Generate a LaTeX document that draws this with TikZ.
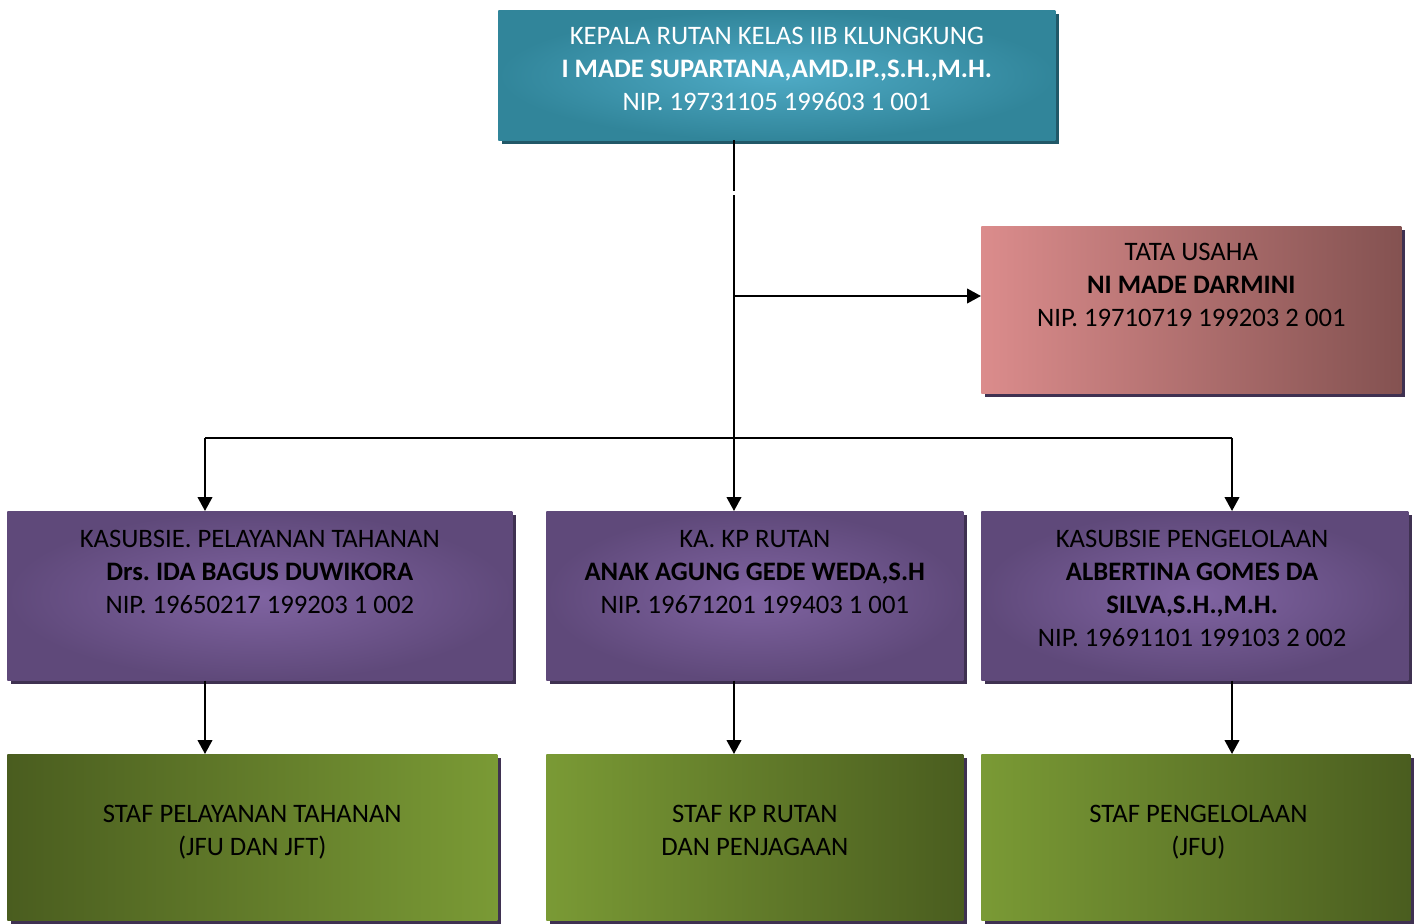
\documentclass[tikz,border=0pt]{standalone}
\usepackage{fontspec}
\setmainfont{Carlito}
\frenchspacing
\usetikzlibrary{shadows,arrows.meta}
\definecolor{tealE}{HTML}{31859A}
\definecolor{tealC}{HTML}{4FABC6}
\definecolor{tealS}{HTML}{215868}
\definecolor{pinkL}{HTML}{DB8C8C}
\definecolor{pinkR}{HTML}{845251}
\definecolor{purE}{HTML}{5F497A}
\definecolor{purC}{HTML}{8064A2}
\definecolor{shadowP}{HTML}{3F3151}
\definecolor{grD}{HTML}{4A5D1F}
\definecolor{grL}{HTML}{7A9A35}
\begin{document}
\begin{tikzpicture}[x=0.75pt,y=-0.75pt,
  orgbox/.style={rectangle, draw=none, anchor=north west, inner sep=0pt,
    general shadow={fill=shadowP, shadow xshift=3pt, shadow yshift=-3pt}},
  topbox/.style={orgbox, inner color=tealC, outer color=tealE,
    general shadow={fill=tealS, shadow xshift=3pt, shadow yshift=-3pt}},
  pinkbox/.style={orgbox, left color=pinkL, right color=pinkR},
  purbox/.style={orgbox, inner color=purC, outer color=purE},
  grbox/.style={orgbox},
  txt/.style={anchor=north, inner sep=0pt, align=center,
    font=\fontsize{20}{24.75}\selectfont},
  conn/.style={line width=1.5pt},
  arr/.style={conn, -{Triangle[length=10.5pt,width=11pt]}}]
\useasboundingbox (0,0) rectangle (1418,924);

% boxes
\node[topbox, minimum width=417.75pt, minimum height=97.5pt] (top) at (498,10) {};
\node[pinkbox, minimum width=315pt, minimum height=125.25pt] (tu) at (981,226) {};
\node[purbox, minimum width=378.75pt, minimum height=126.75pt] (p1) at (7,511) {};
\node[purbox, minimum width=312.75pt, minimum height=126.75pt] (p2) at (546,511) {};
\node[purbox, minimum width=320.25pt, minimum height=126.75pt] (p3) at (981,511) {};
\node[grbox, left color=grD, right color=grL, minimum width=367.5pt, minimum height=124.5pt] (g1) at (7,754) {};
\node[grbox, left color=grL, right color=grD, minimum width=312.75pt, minimum height=124.5pt] (g2) at (546,754) {};
\node[grbox, left color=grL, right color=grD, minimum width=321.75pt, minimum height=124.5pt] (g3) at (981,754) {};

% texts
\node[txt, text=white] (topt) at ([yshift=-12.5pt]top.north)
  {KEPALA RUTAN KELAS IIB KLUNGKUNG\\ \textbf{I MADE SUPARTANA,AMD.IP.,S.H.,M.H.}\\ NIP. 19731105 199603 1 001};
\node[txt] (tut) at ([yshift=-12.5pt]tu.north)
  {TATA USAHA\\ \textbf{NI MADE DARMINI}\\ NIP. 19710719 199203 2 001};
\node[txt] (p1t) at ([yshift=-14pt]p1.north)
  {KASUBSIE. PELAYANAN TAHANAN\\ \textbf{Drs. IDA BAGUS DUWIKORA}\\ NIP. 19650217 199203 1 002};
\node[txt] (p2t) at ([yshift=-14pt]p2.north)
  {KA. KP RUTAN\\ \textbf{ANAK AGUNG GEDE WEDA,S.H}\\ NIP. 19671201 199403 1 001};
\node[txt] (p3t) at ([xshift=-2pt,yshift=-14pt]p3.north)
  {KASUBSIE PENGELOLAAN\\ \textbf{ALBERTINA GOMES DA}\\ \textbf{SILVA,S.H.,M.H.}\\ NIP. 19691101 199103 2 002};
\node[txt] (g1t) at ([yshift=-38pt]g1.north)
  {STAF PELAYANAN TAHANAN\\ (JFU DAN JFT)};
\node[txt] (g2t) at ([yshift=-38pt]g2.north)
  {STAF KP RUTAN\\ DAN PENJAGAAN};
\node[txt] (g3t) at ([xshift=2pt,yshift=-38pt]g3.north)
  {STAF PENGELOLAAN\\ (JFU)};

% connector points
\coordinate (t0) at (734,140);
\coordinate (t1) at (734,191);
\coordinate (t2) at (734,195);
\coordinate (tj) at (734,296);
\coordinate (hl) at (205,438);
\coordinate (hr) at (1232,438);

% connectors
\draw[conn] (t0) -- (t1);
\draw[arr] (t2) -- (p2.north -| t2);
\draw[arr] (tj) -- (tu.west |- tj);
\draw[conn] (hl) -- (hr);
\draw[arr] (hl) -- (p1.north -| hl);
\draw[arr] (hr) -- (p3.north -| hr);
\draw[arr] (p1.south -| hl) -- (g1.north -| hl);
\draw[arr] (p2.south -| t2) -- (g2.north -| t2);
\draw[arr] (p3.south -| hr) -- (g3.north -| hr);
\end{tikzpicture}
\end{document}
